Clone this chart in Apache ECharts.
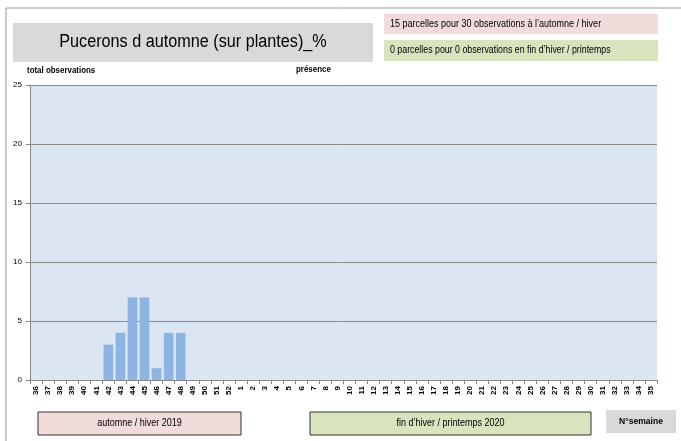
<!DOCTYPE html>
<html>
<head>
<meta charset="utf-8">
<script src="https://cdn.jsdelivr.net/npm/echarts@6/dist/echarts.min.js"></script>
<style>
  html, body { margin: 0; padding: 0; background: #fff; }
  #chart { width: 681px; height: 441px; }
</style>
</head>
<body>
<div id="chart"></div>
<script>
// semaines 36..52 puis 1..35
const weeks = ['36','37','38','39','40','41','42','43','44','45','46','47','48','49','50','51','52',
  '1','2','3','4','5','6','7','8','9','10','11','12','13','14','15','16','17','18','19','20',
  '21','22','23','24','25','26','27','28','29','30','31','32','33','34','35'];
const presence = [null,null,null,null,null,null,3,4,7,7,1,4,4,null,null,null,null,
  null,null,null,null,null,null,null,null,null,null,null,null,null,null,null,null,null,null,null,null,
  null,null,null,null,null,null,null,null,null,null,null,null,null,null,null];
const yTicks = [0, 5, 10, 15, 20, 25];

const chart = echarts.init(document.getElementById('chart'));
const font = 'Liberation Sans, sans-serif';

// boite avec texte, sx = compression horizontale du texte (police étroite type Calibri)
const box = (x, y, w, h, fill, text, opts) => ({
  type: 'group',
  children: [
    { type: 'rect', shape: { x: x, y: y, width: w, height: h },
      style: { fill: fill, stroke: opts.stroke || null, lineWidth: opts.stroke ? 1 : 0 } },
    { type: 'text', x: opts.left ? x + 6 : x + w / 2, y: y + h / 2,
      scaleX: opts.sx || 1,
      style: { text: text, font: opts.font, fill: '#000',
        align: opts.left ? 'left' : 'center', verticalAlign: 'middle' } }
  ]
});

chart.setOption({
  animation: false,
  grid: { left: 30, right: 24, top: 85, bottom: 61 },
  xAxis: {
    type: 'category',
    data: weeks,
    axisLine: { lineStyle: { color: '#888' } },
    axisTick: { show: true, alignWithLabel: false, length: 4, lineStyle: { color: '#888' } },
    axisLabel: { rotate: 90, interval: 0, fontSize: 8, fontWeight: 'bold', color: '#000',
      fontFamily: font, margin: 6 }
  },
  yAxis: {
    type: 'value',
    min: yTicks[0], max: yTicks[yTicks.length - 1], interval: 5,
    axisLine: { show: true, lineStyle: { color: '#888' } },
    axisTick: { show: true, length: 4, lineStyle: { color: '#888' } },
    axisLabel: { fontSize: 8, color: '#000', fontFamily: font, margin: 8 },
    splitLine: { lineStyle: { color: '#8a8a8a', width: 1 } },
    splitArea: { show: true, areaStyle: { color: ['#dce6f2', '#dce6f2'] } }
  },
  series: [{
    type: 'bar',
    name: 'présence',
    data: presence,
    barCategoryGap: '20%',
    itemStyle: { color: '#8db4e2' }
  }],
  graphic: [
    { type: 'polyline', shape: { points: [[6, 441], [6, 8], [681, 8]] },
      style: { stroke: '#999', lineWidth: 1, fill: null } },
    box(13, 23, 360, 39, '#d9d9d9', 'Pucerons d automne (sur plantes)_%',
      { font: '18px ' + font, sx: 0.9 }),
    box(384, 14, 274, 20, '#f2dcdb', '15 parcelles pour 30 observations à l’automne / hiver',
      { font: '10px ' + font, left: true, sx: 0.9 }),
    box(384, 40, 274, 21, '#d7e4bd', '0 parcelles pour 0 observations en fin d’hiver / printemps',
      { font: '10px ' + font, left: true, sx: 0.88 }),
    { type: 'text', x: 27, y: 66, scaleX: 0.88,
      style: { text: 'total observations', font: 'bold 9px ' + font, fill: '#000' } },
    { type: 'text', x: 296, y: 65, scaleX: 0.88,
      style: { text: 'présence', font: 'bold 9px ' + font, fill: '#000' } },
    box(38, 412, 203, 23, '#f2dcdb', 'automne / hiver 2019',
      { font: '10px ' + font, stroke: '#333', sx: 0.9 }),
    box(310, 412, 281, 23, '#d7e4bd', 'fin d’hiver / printemps 2020',
      { font: '10px ' + font, stroke: '#333', sx: 0.9 }),
    box(606, 410, 70, 23, '#d9d9d9', 'N°semaine',
      { font: 'bold 9px ' + font, sx: 0.95 })
  ]
});
</script>
</body>
</html>
